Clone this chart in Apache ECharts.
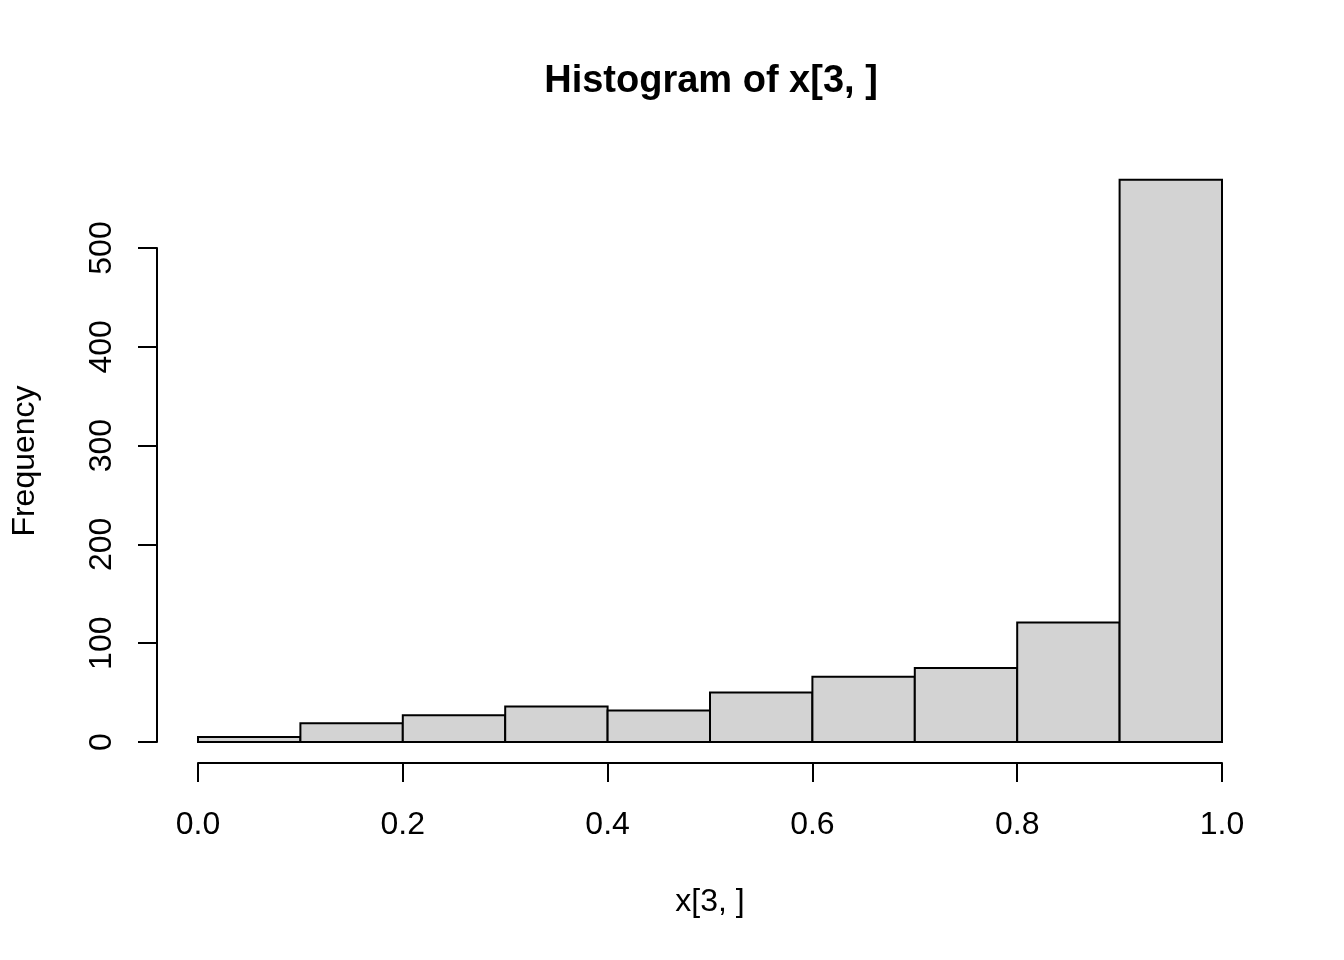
<!DOCTYPE html>
<html>
    <head>
        <meta charset="utf-8">
        <title>Histogram of x[3, ]</title>
        <script src="https://cdn.jsdelivr.net/npm/echarts@6/dist/echarts.min.js"></script>
        <style>
            html, body { margin: 0; padding: 0; background: #fff; }
            #chart1 { width: 1344px; height: 960px; }
        </style>
    </head>
    <body>
        <div id="chart1"></div>
        <script type="text/javascript">
            // bin edges and counts
            var binStart = [0.0, 0.1, 0.2, 0.3, 0.4, 0.5, 0.6, 0.7, 0.8, 0.9];
            var binEnd   = [0.1, 0.2, 0.3, 0.4, 0.5, 0.6, 0.7, 0.8, 0.9, 1.0];
            var counts   = [5, 19, 27, 36, 32, 50, 66, 75, 121, 569];
            var xTicks = [0, 0.2, 0.4, 0.6, 0.8, 1.0];
            var yTicks = [0, 100, 200, 300, 400, 500];

            var font = "'Liberation Sans', Arial, Helvetica, sans-serif";

            var bins = binStart.map(function (s, i) {
                return [s, binEnd[i], counts[i]];
            });

            var myChart = echarts.init(document.getElementById('chart1'));

            var option = {
                backgroundColor: '#ffffff',
                animation: false,
                title: {
                    text: 'Histogram of x[3, ]',
                    left: 706,
                    textAlign: 'center',
                    top: 58,
                    textStyle: { fontFamily: font, fontSize: 38, fontWeight: 'bold', color: '#000' }
                },
                grid: { left: 198, right: 122, top: 248, bottom: 218 },
                xAxis: {
                    type: 'value',
                    min: xTicks[0],
                    max: xTicks[xTicks.length - 1],
                    interval: 0.2,
                    offset: 21,
                    name: 'x[3, ]',
                    nameLocation: 'middle',
                    nameGap: 123,
                    nameTextStyle: { fontFamily: font, fontSize: 32, color: '#000' },
                    axisLine: { show: true, onZero: false, lineStyle: { color: '#000', width: 2 } },
                    axisTick: { show: true, length: 19, lineStyle: { color: '#000', width: 2 } },
                    axisLabel: {
                        margin: 46,
                        fontFamily: font, fontSize: 32, color: '#000',
                        formatter: function (v) { return v.toFixed(1); }
                    },
                    splitLine: { show: false }
                },
                yAxis: {
                    type: 'value',
                    min: yTicks[0],
                    max: yTicks[yTicks.length - 1],
                    interval: 100,
                    offset: 41,
                    axisLine: { show: true, onZero: false, lineStyle: { color: '#000', width: 2 } },
                    axisTick: { show: true, length: 19, lineStyle: { color: '#000', width: 2 } },
                    axisLabel: {
                        rotate: 90,
                        margin: 39,
                        fontFamily: font, fontSize: 32, color: '#000'
                    },
                    splitLine: { show: false }
                },
                graphic: [{
                    type: 'text',
                    x: 25,
                    y: 461,
                    rotation: Math.PI / 2,
                    style: {
                        text: 'Frequency',
                        fontFamily: font,
                        fontSize: 32,
                        fill: '#000',
                        align: 'center',
                        verticalAlign: 'middle'
                    }
                }],
                series: [{
                    type: 'custom',
                    clip: false,
                    data: bins,
                    encode: { x: [0, 1], y: 2 },
                    renderItem: function (params, api) {
                        var topLeft = api.coord([api.value(0), api.value(2)]);
                        var bottomRight = api.coord([api.value(1), 0]);
                        return {
                            type: 'rect',
                            shape: {
                                x: topLeft[0],
                                y: topLeft[1],
                                width: bottomRight[0] - topLeft[0],
                                height: bottomRight[1] - topLeft[1]
                            },
                            style: { fill: '#d3d3d3', stroke: '#000', lineWidth: 2 }
                        };
                    }
                }]
            };
            myChart.setOption(option);
        </script>
    </body>
</html>
